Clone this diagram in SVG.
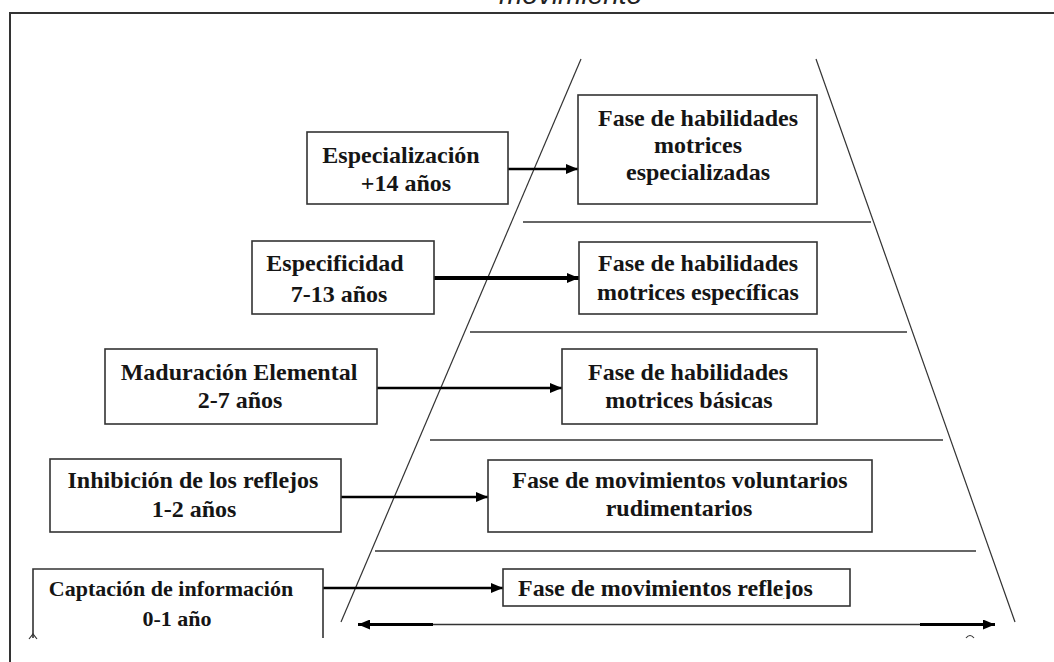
<svg xmlns="http://www.w3.org/2000/svg" width="1054" height="662" viewBox="0 0 1054 662">
  <style>
    .box { fill: #ffffff; stroke: #333333; stroke-width: 1.6; }
    .openbox { fill: none; stroke: #333333; stroke-width: 1.6; }
    .t { font-family: "Liberation Serif", "Times New Roman", serif; font-weight: bold; font-size: 24px; fill: #151515; text-anchor: middle; }
    .ts { font-size: 22px; }
    .tl { text-anchor: start; }
    .sep { stroke: #333333; stroke-width: 1.5; fill: none; }
    .pyr { stroke: #333333; stroke-width: 1.2; fill: none; }
    .arr { stroke: #000000; stroke-width: 2.6; fill: none; marker-end: url(#ah); }
    .arrthick { stroke-width: 4; }
    .frame { stroke: #333333; stroke-width: 2; fill: none; }
    .title { font-family: "Liberation Sans", Arial, sans-serif; font-style: italic; font-size: 28px; fill: #222222; }
  </style>
  <defs>
    <marker id="ah" markerUnits="userSpaceOnUse" markerWidth="12" markerHeight="10" refX="12" refY="5" orient="auto">
      <path d="M0,0 L12,5 L0,10 z" fill="#000000"/>
    </marker>
    <marker id="ahs" markerUnits="userSpaceOnUse" markerWidth="12" markerHeight="10" refX="0" refY="5" orient="auto">
      <path d="M12,0 L0,5 L12,10 z" fill="#000000"/>
    </marker>
    <clipPath id="clip5">
      <rect x="503" y="560" width="347" height="39"/>
    </clipPath>
  </defs>
  <rect x="0" y="0" width="1054" height="662" fill="#ffffff"/>

  <text class="title" x="499" y="4">movimiento</text>
  <path class="frame" d="M10,662 L10,13 L1054,13"/>

  <g id="pyramid">
    <line class="pyr" x1="581" y1="59" x2="341" y2="622"/>
    <line class="pyr" x1="816" y1="59" x2="1015" y2="622"/>
    <line class="sep" x1="523" y1="222" x2="871" y2="222"/>
    <line class="sep" x1="470" y1="332" x2="907" y2="332"/>
    <line class="sep" x1="430" y1="440" x2="943" y2="440"/>
    <line class="sep" x1="375" y1="551" x2="976" y2="551"/>
  </g>

  <g id="connectors">
    <line class="arr" x1="488" y1="169" x2="578" y2="169"/>
    <line class="arr arrthick" x1="434" y1="278" x2="579" y2="278"/>
    <line class="arr" x1="377" y1="388" x2="562" y2="388"/>
    <line class="arr" x1="341" y1="497" x2="488" y2="497"/>
    <line class="arr" x1="323" y1="588" x2="503" y2="588"/>
    <g id="axis">
      <line x1="362" y1="624.5" x2="990" y2="624.5" stroke="#333333" stroke-width="1.4"/>
      <line x1="358" y1="624.5" x2="433" y2="624.5" stroke="#000000" stroke-width="3" marker-start="url(#ahs)"/>
      <line x1="920" y1="624.5" x2="995" y2="624.5" stroke="#000000" stroke-width="3" marker-end="url(#ah)"/>
    </g>
  </g>

  <g id="n-especializacion">
    <rect class="box" x="307" y="132" width="201" height="72"/>
    <text class="t" x="401" y="163">Especialización</text>
    <text class="t" x="406" y="191">+14 años</text>
  </g>
  <g id="n-especificidad">
    <rect class="box" x="252" y="241" width="182" height="73"/>
    <text class="t" x="335" y="271">Especificidad</text>
    <text class="t" x="339" y="302">7-13 años</text>
  </g>
  <g id="n-maduracion">
    <rect class="box" x="105" y="349" width="272" height="75"/>
    <text class="t" x="239" y="380">Maduración Elemental</text>
    <text class="t" x="240" y="408">2-7 años</text>
  </g>
  <g id="n-inhibicion">
    <rect class="box" x="50" y="459" width="291" height="73"/>
    <text class="t" x="193" y="488">Inhibición de los reflejos</text>
    <text class="t" x="194" y="517">1-2 años</text>
  </g>
  <g id="n-captacion">
    <path class="openbox" d="M33,638 L33,569 L323,569 L323,638"/>
    <path d="M29,639 L33,634 L37,639" fill="none" stroke="#333333" stroke-width="1.2"/>
    <text class="t ts" x="171" y="596">Captación de información</text>
    <text class="t ts" x="177" y="626">0-1 año</text>
  </g>

  <g id="f-especializadas">
    <rect class="box" x="578" y="95" width="239" height="109"/>
    <text class="t" x="698" y="126">Fase de habilidades</text>
    <text class="t" x="698" y="153">motrices</text>
    <text class="t" x="698" y="180">especializadas</text>
  </g>
  <g id="f-especificas">
    <rect class="box" x="579" y="242" width="238" height="72"/>
    <text class="t" x="698" y="271">Fase de habilidades</text>
    <text class="t" x="698" y="300">motrices específicas</text>
  </g>
  <g id="f-basicas">
    <rect class="box" x="562" y="349" width="255" height="75"/>
    <text class="t" x="688" y="380">Fase de habilidades</text>
    <text class="t" x="689" y="408">motrices básicas</text>
  </g>
  <g id="f-rudimentarios">
    <rect class="box" x="488" y="460" width="384" height="72"/>
    <text class="t" x="680" y="488">Fase de movimientos voluntarios</text>
    <text class="t" x="679" y="516">rudimentarios</text>
  </g>
  <g id="f-reflejos">
    <rect class="box" x="503" y="569" width="347" height="37"/>
    <text class="t tl" x="518" y="596" clip-path="url(#clip5)">Fase de movimientos reflejos</text>
  </g>
  <path d="M966,638 Q970,633 974,638" fill="none" stroke="#333333" stroke-width="1.2"/>
</svg>
